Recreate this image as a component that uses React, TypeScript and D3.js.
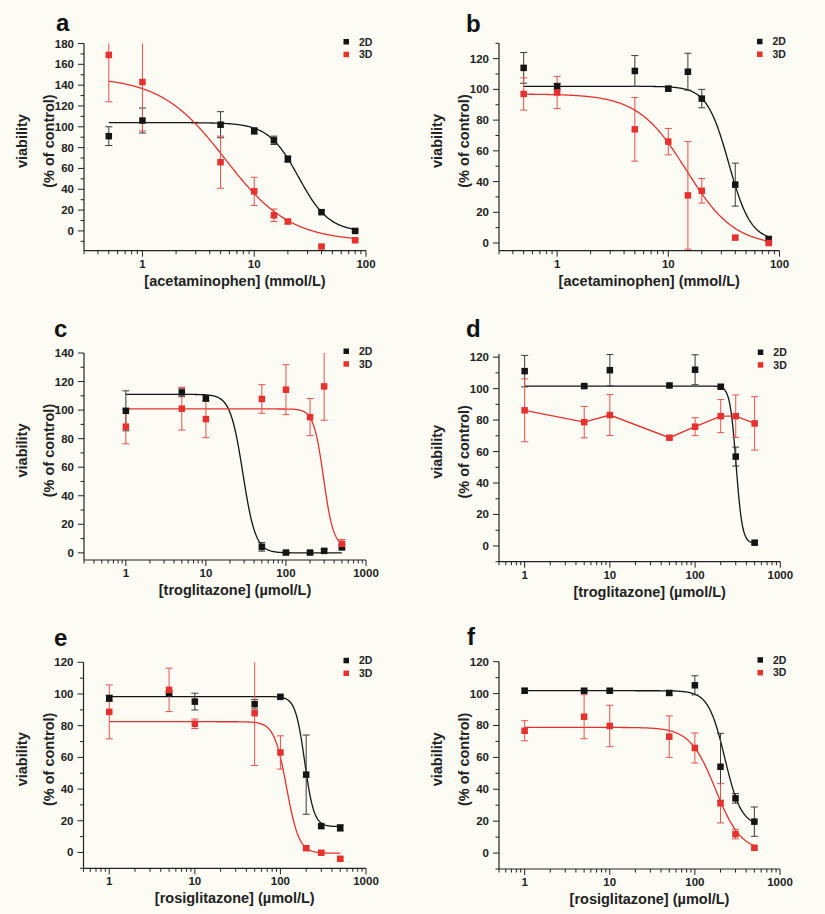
import React from 'react';
import * as d3 from 'd3';

// ---- panel a: acetaminophen (mmol/L)
const concA = [0.5, 1, 5, 10, 15, 20, 40, 80];
const a2D = [91, 106, 102, 96, 87, 69, 18, 0];
const a2DErr = [9, 12, 12.5, 3, 4, 3, 2, 1];
const a3D = [169, 143, 66, 38, 15, 9, -15, -9];
const a3DErr = [45, 47, 25, 13.5, 6, 2, 1, 1];
// logistic fits: [top, bottom, EC50, hill]
const a2DFit = [104, -1, 25, 3.2];
const a3DFit = [148, -10, 5.5, 1.5];

// ---- panel b: acetaminophen (mmol/L)
const concB = [0.5, 1, 5, 10, 15, 20, 40, 80];
const b2D = [114, 102, 112, 100.5, 111.5, 94, 38, 2.6];
const b2DErr = [10, 2, 10, 1.5, 12, 6, 14, 1];
const b3D = [97, 98, 74, 66, 31, 34, 3.5, 0];
const b3DErr = [10.5, 10.5, 20.7, 8.6, 35, 8, 1, 1];
const b2DFit = [102, 1.5, 35, 4.4];
const b3DFit = [97, -2, 14.5, 2.0];

// ---- panel c: troglitazone (µmol/L)
const concC = [1, 5, 10, 50, 100, 200, 300, 500];
const c2D = [99.5, 112.4, 108.2, 4.2, 0.2, 0.2, 1.4, 4];
const c2DErr = [14, 3, 2, 3, 1, 1, 1, 2];
const c3D = [88.4, 101, 93.7, 107.8, 114.3, 95.1, 116.6, 6.3];
const c3DErr = [12, 15, 13, 10, 17.5, 13, 23.7, 3];
const c2DFit = [111, 0, 29, 5.5];
const c3DFit = [100.8, 4, 295, 7];

// ---- panel d: troglitazone (µmol/L), 3D joined point to point
const concD = [1, 5, 10, 50, 100, 200, 300, 500];
const d2D = [111.1, 101.6, 111.7, 102, 112, 101.2, 56.8, 2.1];
const d2DErr = [10, 1, 10, 1, 9.5, 1, 6, 1];
const d3D = [86.2, 78.7, 83.2, 68.8, 75.8, 82.5, 82.5, 77.9];
const d3DErr = [20, 10, 13, 1, 5.7, 10.5, 13.5, 17];
const d2DFit = [101.6, 1.5, 303, 12];

// ---- panel e: rosiglitazone (µmol/L)
const concE = [1, 5, 10, 50, 100, 200, 300, 500];
const e2D = [97.3, 100.5, 95.2, 93.6, 98.2, 49.1, 16.6, 15.5];
const e2DErr = [2, 1, 5.3, 3, 1, 25, 1, 2];
const e3D = [88.7, 102.6, 81.2, 87.9, 63.1, 2.7, -0.2, -4];
const e3DErr = [17, 13.7, 3, 33, 10.5, 1, 1, 1];
const e2DFit = [98.4, 16.3, 192, 8];
const e3DFit = [82.5, -0.5, 118, 6];

// ---- panel f: rosiglitazone (µmol/L)
const concF = [1, 5, 10, 50, 100, 200, 300, 500];
const f2D = [101.8, 101.8, 101.8, 100.4, 105.2, 54.1, 34.3, 19.7];
const f2DErr = [1.5, 1, 1, 1.5, 6, 21, 3, 9.2];
const f3D = [76.7, 85.5, 79.7, 73, 65.9, 31.2, 11.9, 3.3];
const f3DErr = [6.3, 13.8, 13, 13, 9.4, 12.3, 3, 1];
const f2DFit = [101.8, 17, 225, 4.5];
const f3DFit = [78.8, 1, 175, 2.9];

// tick labels
const yTicks180 = [0, 20, 40, 60, 80, 100, 120, 140, 160, 180];
const yTicks140 = [0, 20, 40, 60, 80, 100, 120, 140];
const yTicks120 = [0, 20, 40, 60, 80, 100, 120];
const xTicks100 = [1, 10, 100];
const xTicks1000 = [1, 10, 100, 1000];

const seriesNames = ['2D', '3D'];

const BLACK = '#141414';
const RED = '#e6312e';
const FONT = '"Liberation Sans", Arial, sans-serif';

const panels = [
  {
    key: 'a', left: 84, right: 366, top: 43.5, bottom: 250.7, lx: 56, ly: 31,
    xDomain: [0.3, 100], yDomain: [-19, 180], yTicks: yTicks180, xTicks: xTicks100,
    xTitle: '[acetaminophen] (mmol/L)', conc: concA,
    s2: a2D, e2: a2DErr, s3: a3D, e3: a3DErr, fit2: a2DFit, fit3: a3DFit,
  },
  {
    key: 'b', left: 499, right: 779.5, top: 43.3, bottom: 250.7, lx: 466, ly: 32,
    xDomain: [0.3, 100], yDomain: [-5, 130], yTicks: yTicks120, xTicks: xTicks100,
    xTitle: '[acetaminophen] (mmol/L)', conc: concB,
    s2: b2D, e2: b2DErr, s3: b3D, e3: b3DErr, fit2: b2DFit, fit3: b3DFit,
  },
  {
    key: 'c', left: 84, right: 366, top: 353, bottom: 560, lx: 54, ly: 337,
    xDomain: [0.3, 1000], yDomain: [-5, 140], yTicks: yTicks140, xTicks: xTicks1000,
    xTitle: '[troglitazone] (µmol/L)', conc: concC,
    s2: c2D, e2: c2DErr, s3: c3D, e3: c3DErr, fit2: c2DFit, fit3: c3DFit,
  },
  {
    key: 'd', left: 499, right: 780.3, top: 354, bottom: 561.7, lx: 466, ly: 337,
    xDomain: [0.5, 1000], yDomain: [-10, 122], yTicks: yTicks120, xTicks: xTicks1000,
    xTitle: '[troglitazone] (µmol/L)', conc: concD,
    s2: d2D, e2: d2DErr, s3: d3D, e3: d3DErr, fit2: d2DFit, fit3: null,
  },
  {
    key: 'e', left: 83.5, right: 366, top: 662.3, bottom: 868.3, lx: 54, ly: 646,
    xDomain: [0.5, 1000], yDomain: [-10, 120], yTicks: yTicks120, xTicks: xTicks1000,
    xTitle: '[rosiglitazone] (µmol/L)', conc: concE,
    s2: e2D, e2: e2DErr, s3: e3D, e3: e3DErr, fit2: e2DFit, fit3: e3DFit,
  },
  {
    key: 'f', left: 499, right: 780, top: 661.7, bottom: 869, lx: 467, ly: 645,
    xDomain: [0.5, 1000], yDomain: [-10, 120], yTicks: yTicks120, xTicks: xTicks1000,
    xTitle: '[rosiglitazone] (µmol/L)', conc: concF,
    s2: f2D, e2: f2DErr, s3: f3D, e3: f3DErr, fit2: f2DFit, fit3: f3DFit,
  },
];

const logistic = (p: number[], x: number) => p[1] + (p[0] - p[1]) / (1 + Math.pow(x / p[2], p[3]));

function Panel({ p }: { p: any }) {
  const x = d3.scaleLog().domain(p.xDomain).range([p.left, p.right]);
  const y = d3.scaleLinear().domain(p.yDomain).range([p.bottom, p.top]);
  const line = d3.line<[number, number]>().x(d => x(d[0])).y(d => y(d[1]));

  const lo = d3.min(p.conc) as number;
  const hi = d3.max(p.conc) as number;
  const samples = d3.range(0, 301).map(i => Math.pow(10, Math.log10(lo) + (Math.log10(hi) - Math.log10(lo)) * i / 300));
  const fitPath = (fit: number[]) => line(samples.map(c => [c, logistic(fit, c)] as [number, number])) || '';

  const minorX = x.ticks().filter(t => !p.xTicks.some((m: number) => Math.abs(m - t) < 1e-9));
  const minorY = d3.range(Math.ceil(p.yDomain[0] / 10) * 10, p.yDomain[1] + 0.01, 10).filter(v => v % 20 !== 0);
  const clipId = `clip-${p.key}`;
  const midY = (p.top + p.bottom) / 2 - 6;
  const midX = (p.left + p.right) / 2 + 10;
  const ms = 6.5;

  const series = [
    { vals: p.s2, err: p.e2, color: BLACK, errColor: '#3a3a3a', fit: p.fit2 },
    { vals: p.s3, err: p.e3, color: RED, errColor: '#e8504c', fit: p.fit3 },
  ];

  return (
    <g>
      <defs>
        <clipPath id={clipId}>
          <rect x={p.left} y={p.top} width={p.right - p.left + 6} height={p.bottom - p.top} />
        </clipPath>
      </defs>
      <text x={p.lx} y={p.ly} fontSize={24} fontWeight="bold" fill="#111">{p.key}</text>

      {/* axes */}
      <line x1={p.left} x2={p.left} y1={p.top} y2={p.bottom} stroke="#222" strokeWidth={1.2} />
      <line x1={p.left} x2={p.right} y1={p.bottom} y2={p.bottom} stroke="#222" strokeWidth={1.2} />
      {p.yTicks.map((t: number) => (
        <g key={`yt${t}`}>
          <line x1={p.left - 6} x2={p.left} y1={y(t)} y2={y(t)} stroke="#222" strokeWidth={1} />
          <text x={p.left - 10} y={y(t) + 4} textAnchor="end" fontSize={11.5} fontWeight="bold" fill="#222">{t}</text>
        </g>
      ))}
      {minorY.map((t: number) => (
        <line key={`ym${t}`} x1={p.left - 3.5} x2={p.left} y1={y(t)} y2={y(t)} stroke="#222" strokeWidth={1} />
      ))}
      {p.xTicks.map((t: number) => (
        <g key={`xt${t}`}>
          <line x1={x(t)} x2={x(t)} y1={p.bottom} y2={p.bottom + 6} stroke="#222" strokeWidth={1} />
          <text x={x(t)} y={p.bottom + 17} textAnchor="middle" fontSize={11.5} fontWeight="bold" fill="#222">{t}</text>
        </g>
      ))}
      {minorX.map((t: number) => (
        <line key={`xm${t}`} x1={x(t)} x2={x(t)} y1={p.bottom} y2={p.bottom + 3.5} stroke="#222" strokeWidth={1} />
      ))}

      {/* titles */}
      <text transform={`translate(${p.left - 57},${midY}) rotate(-90)`} textAnchor="middle" fontSize={14.5} fontWeight="bold" fill="#222">viability</text>
      <text transform={`translate(${p.left - 30},${midY}) rotate(-90)`} textAnchor="middle" fontSize={14.5} fontWeight="bold" fill="#222">(% of control)</text>
      <text x={midX} y={p.bottom + 35} textAnchor="middle" fontSize={14.5} fontWeight="bold" fill="#222">{p.xTitle}</text>

      {/* data */}
      <g clipPath={`url(#${clipId})`}>
        {series.map((s, si) => (
          <g key={`s${si}`}>
            {s.fit ? (
              <path d={fitPath(s.fit)} fill="none" stroke={s.color} strokeWidth={1.3} />
            ) : (
              <path d={line(p.conc.map((c: number, i: number) => [c, s.vals[i]] as [number, number])) || ''} fill="none" stroke={s.color} strokeWidth={1.3} />
            )}
            {p.conc.map((c: number, i: number) => {
              const cx = x(c);
              const y1 = y(s.vals[i] + s.err[i]);
              const y2 = y(s.vals[i] - s.err[i]);
              return (
                <g key={`e${i}`} stroke={s.errColor} strokeWidth={1}>
                  <line x1={cx} x2={cx} y1={y1} y2={y2} />
                  <line x1={cx - 3.5} x2={cx + 3.5} y1={y1} y2={y1} />
                  <line x1={cx - 3.5} x2={cx + 3.5} y1={y2} y2={y2} />
                </g>
              );
            })}
          </g>
        ))}
      </g>
      {series.map((s, si) => (
        <g key={`m${si}`}>
          {p.conc.map((c: number, i: number) => (
            <rect key={i} x={x(c) - ms / 2} y={y(s.vals[i]) - ms / 2} width={ms} height={ms} fill={s.color} />
          ))}
        </g>
      ))}

      {/* legend */}
      {seriesNames.map((n, i) => (
        <g key={n}>
          <rect x={p.right - 22.5} y={p.top - 4.5 + i * 12.7} width={5.5} height={5.5} fill={i === 0 ? BLACK : RED} />
          <text x={p.right - 7} y={p.top + 2 + i * 12.7} fontSize={10.5} fontWeight="bold" fill="#222">{n}</text>
        </g>
      ))}
    </g>
  );
}

export default function App() {
  return (
    <svg width={825} height={914} style={{ position: 'absolute', left: 0, top: 0, fontFamily: FONT }}>
      <rect width={825} height={914} fill="#fcfcf5" />
      {panels.map(p => <Panel key={p.key} p={p} />)}
    </svg>
  );
}
